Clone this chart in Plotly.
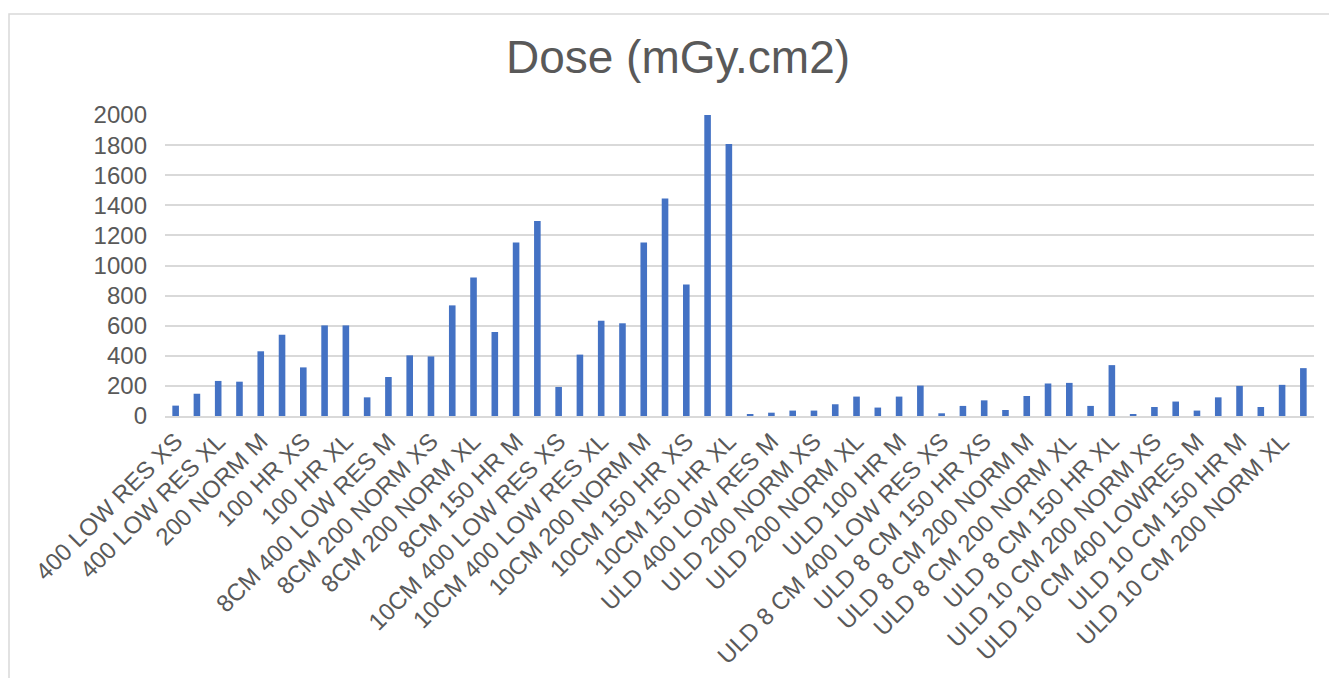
import plotly.graph_objects as go

categories = [
    "400 LOW RES XS", "400 LOW RES M", "400 LOW RES XL",
    "200 NORM XS", "200 NORM M", "200 NORM XL",
    "100 HR XS", "100 HR M", "100 HR XL",
    "8CM 400 LOW RES XS", "8CM 400 LOW RES M", "8CM 400 LOW RES XL",
    "8CM 200 NORM XS", "8CM 200 NORM M", "8CM 200 NORM XL",
    "8CM 150 HR XS", "8CM 150 HR M", "8CM 150 HR XL",
    "10CM 400 LOW RES XS", "10CM 400 LOW RES M", "10CM 400 LOW RES XL",
    "10CM 200 NORM XS", "10CM 200 NORM M", "10CM 200 NORM XL",
    "10CM 150 HR XS", "10CM 150 HR M", "10CM 150 HR XL",
    "ULD 400 LOW RES XS", "ULD 400 LOW RES M", "ULD 400 LOW RES XL",
    "ULD 200 NORM XS", "ULD 200 NORM M", "ULD 200 NORM XL",
    "ULD 100 HR XS", "ULD 100 HR M", "ULD 100 HR XL",
    "ULD 8 CM 400 LOW RES XS", "ULD 8 CM 400 LOW RES M", "ULD 8 CM 150 HR XS",
    "ULD 8 CM 200 NORM XS", "ULD 8 CM 200 NORM M", "ULD 8 CM 150 HR M",
    "ULD 8 CM 200 NORM XL", "ULD 8 CM 400 LOW RES XL", "ULD 8 CM 150 HR XL",
    "ULD 10 CM 400 LOWRES XS", "ULD 10 CM 200 NORM XS", "ULD 10 CM 150 HR XS",
    "ULD 10 CM 400 LOWRES M", "ULD 10 CM 200 NORM M", "ULD 10 CM 150 HR M",
    "ULD 10 CM 400 LOWRES XL", "ULD 10 CM 200 NORM XL", "ULD 10 CM 150 HR XL",
]

dose = [
    69, 148, 233, 228, 430, 540, 323, 602, 602,
    124, 259, 403, 396, 735, 921, 558, 1152, 1296,
    193, 408, 633, 616, 1152, 1446, 873, 2000, 1807,
    9, 22, 36, 36, 78, 129, 56, 129, 202,
    18, 67, 104, 40, 133, 216, 220, 67, 338,
    13, 60, 96, 36, 124, 200, 60, 207, 318,
]

shown_labels = categories[::2]
y_ticks = list(range(0, 2001, 200))

FONT = "Liberation Sans, Arial, Helvetica, sans-serif"
GRAY = "#595959"

W, H = 1337, 678
OFF = 8  # page body margin
L, R, T, B = 165 - OFF, W - (1314 - OFF), 115 - OFF, H - (416 - OFF)

fig = go.Figure(
    go.Bar(x=categories, y=dose, marker=dict(color="#4472C4", line=dict(width=0)))
)

fig.update_layout(
    width=W,
    height=H,
    paper_bgcolor="white",
    plot_bgcolor="white",
    margin=dict(l=L, r=R, t=T, b=B),
    bargap=0.69,
    showlegend=False,
    font=dict(family=FONT, color=GRAY, size=24),
    title=dict(
        text="Dose (mGy.cm2)",
        x=(678 - OFF) / W, xref="container", xanchor="center",
        y=1 - (57 - OFF) / H, yref="container", yanchor="middle",
        font=dict(family=FONT, size=46, color=GRAY),
    ),
)

fig.update_xaxes(
    type="category",
    tickmode="array",
    tickvals=shown_labels,
    ticktext=shown_labels,
    tickangle=-45,
    tickfont=dict(size=24, color=GRAY, family=FONT),
    showgrid=False,
    showline=True,
    linecolor="#d9d9d9",
    linewidth=1.5,
    ticks="",
    automargin=False,
)
fig.update_yaxes(
    range=[0, 2000],
    tickvals=y_ticks,
    tickfont=dict(size=24, color=GRAY, family=FONT),
    showgrid=True,
    gridcolor="#d9d9d9",
    gridwidth=1.5,
    zeroline=False,
    showline=False,
    ticklabelstandoff=17,
    automargin=False,
)

# outer chart frame
pw = W - L - R
ph = H - T - B
fig.add_shape(
    type="rect", xref="paper", yref="paper",
    x0=(9 - OFF - L) / pw, x1=(W + 20 - L) / pw,
    y0=-(H + 20 - (H - B)) / ph, y1=((H - B) - (14 - OFF)) / ph,
    line=dict(color="#d9d9d9", width=1.5), fillcolor="rgba(0,0,0,0)", layer="below",
)

fig.write_html("out.html")
